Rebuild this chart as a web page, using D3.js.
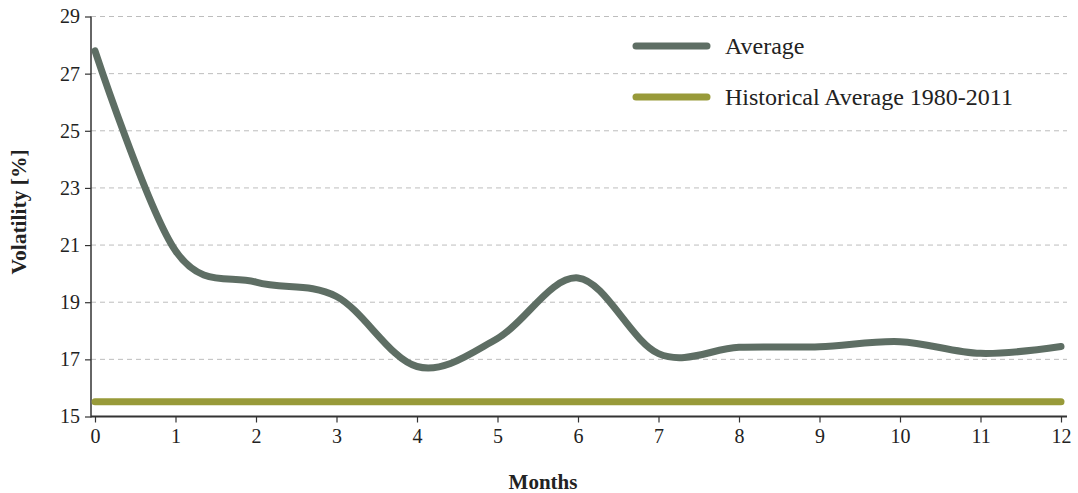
<!DOCTYPE html>
<html><head><meta charset="utf-8">
<script src="https://cdn.jsdelivr.net/npm/d3@7"></script>
<style>body{margin:0;background:#fff}svg{display:block}text{font-family:"Liberation Serif","Times New Roman",serif;fill:#222}</style>
</head><body><svg id="c" width="1078" height="493"></svg>
<script>
const months = [0,1,2,3,4,5,6,7,8,9,10,11,12];
const average = [27.8,20.8,19.7,19.2,16.75,17.73,19.85,17.2,17.42,17.44,17.62,17.21,17.45];
const historical = [15.52,15.52];
const historicalMonths = [0,12];
const yTicks = [15,17,19,21,23,25,27,29];
const xTicks = months;
const seriesNames = ["Average","Historical Average 1980-2011"];
const colors = ["#5e6e64","#989a39"];

const svg = d3.select("#c");
const x = d3.scaleLinear().domain([0,12]).range([95,1061]);
const y = d3.scaleLinear().domain([15,29]).range([416.5,16.5]);
const axL = 91, axR = 1067;

// grid
svg.append("g").selectAll("line").data(yTicks.filter(d=>d>15)).join("line")
  .attr("x1",axL).attr("x2",axR).attr("y1",d=>y(d)).attr("y2",d=>y(d))
  .attr("stroke","#bdbdbd").attr("stroke-width",1).attr("stroke-dasharray","5,4");

// y axis
const ya = svg.append("g").attr("transform",`translate(${axL},0)`)
  .call(d3.axisLeft(y).tickValues(yTicks).tickSize(6).tickPadding(5));
ya.select(".domain").remove();
ya.append("line").attr("x1",0).attr("x2",0).attr("y1",y(29)).attr("y2",y(15)+1).attr("stroke","#333").attr("stroke-width",1.5);
ya.selectAll(".tick line").attr("stroke","#333").attr("stroke-width",1.2);
ya.selectAll(".tick text").attr("font-size",20).attr("font-family","Liberation Serif").attr("fill","#222");

// x axis
const xa = svg.append("g").attr("transform",`translate(0,${y(15)})`)
  .call(d3.axisBottom(x).tickValues(xTicks).tickSize(6).tickPadding(6));
xa.select(".domain").remove();
xa.append("line").attr("x1",axL).attr("x2",axR).attr("y1",0).attr("y2",0).attr("stroke","#333").attr("stroke-width",2);
xa.selectAll(".tick line").attr("stroke","#333").attr("stroke-width",1.2);
xa.selectAll(".tick text").attr("font-size",20).attr("font-family","Liberation Serif").attr("fill","#222");

// lines
const line = d3.line().x(d=>x(d[0])).y(d=>y(d[1])).curve(d3.curveCardinal.tension(0));
svg.append("path").datum(historicalMonths.map((m,i)=>[m,historical[i]]))
  .attr("d",d3.line().x(d=>x(d[0])).y(d=>y(d[1])))
  .attr("fill","none").attr("stroke",colors[1]).attr("stroke-width",7).attr("stroke-linecap","round");
svg.append("path").datum(months.map((m,i)=>[m,average[i]]))
  .attr("d",line).attr("fill","none").attr("stroke",colors[0]).attr("stroke-width",7)
  .attr("stroke-linecap","round").attr("stroke-linejoin","round");

// legend
const lg = svg.append("g");
[46,97].forEach((ly,i)=>{
  lg.append("line").attr("x1",636).attr("x2",707).attr("y1",ly).attr("y2",ly)
    .attr("stroke",colors[i]).attr("stroke-width",7).attr("stroke-linecap","round");
  lg.append("text").attr("x",725).attr("y",ly+8).attr("font-size",24).text(seriesNames[i]);
});

// titles
svg.append("text").attr("transform","translate(26,212) rotate(-90)").attr("text-anchor","middle")
  .attr("font-size",21.5).attr("font-weight","bold").text("Volatility [%]");
svg.append("text").attr("x",543).attr("y",489).attr("text-anchor","middle")
  .attr("font-size",21).attr("font-weight","bold").text("Months");
</script></body></html>
